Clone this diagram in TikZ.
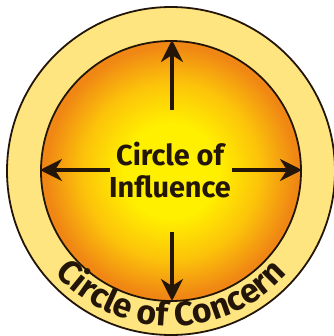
\documentclass[tikz,border=0pt]{standalone}
\usepackage{fontspec}
\setmainfont{Fira Sans}
\usetikzlibrary{arrows.meta,decorations.text}

\definecolor{vongngoai}{RGB}{255,229,128}
\definecolor{vangtam}{RGB}{255,240,0}
\definecolor{camgiua}{RGB}{252,195,10}
\definecolor{camvien}{RGB}{240,135,20}
\definecolor{mucden}{RGB}{35,22,8}

\pgfdeclareradialshading{anhhuong}{\pgfpoint{0bp}{0bp}}{%
	color(0bp)=(vangtam); color(9bp)=(vangtam); color(17bp)=(camgiua);
	color(24bp)=(camvien); color(50bp)=(camvien)}

\tikzset{
	muiten/.style={line width=3.5bp, mucden, -{Stealth[length=22bp,width=22bp,inset=7bp]}},
	vien/.style={draw=mucden, line width=1.8bp},
	chu/.style={text=mucden, font=\bfseries\fontsize{29}{34}\selectfont, align=center}
}

\begin{document}
\begin{tikzpicture}[x=1bp, y=1bp]
	
	% --- KHUNG HÌNH ---
	\useasboundingbox (-171,-165) rectangle (163,171);
	
	% Vẽ hình tròn ngoài (vòng quan tâm)
	\fill[white] (-171,-165) rectangle (163,171);
	\filldraw[vien, fill=vongngoai] (0,0) circle (164);
	
	% Vẽ hình tròn trong (vòng ảnh hưởng)
	\draw[vien, shading=anhhuong] (0,0) circle (130);
	
	% Chữ ở giữa
	\node[chu] (tam) at (-1,1) {Circle of\\[-1pt]Influence};
	
	% Các điểm đầu và cuối mũi tên
	\coordinate (tren0) at (1,61);
	\coordinate (tren1) at (1,131);
	\coordinate (trai0) at (-61,1);
	\coordinate (trai1) at (-131,1);
	\coordinate (phai0) at (61,1);
	\coordinate (phai1) at (131,1);
	\coordinate (duoi0) at (1,-61);
	\coordinate (duoi1) at (1,-130);
	
	% Vẽ bốn mũi tên
	\draw[muiten] (tren0) -- (tren1);
	\draw[muiten] (trai0) -- (trai1);
	\draw[muiten] (phai0) -- (phai1);
	\draw[muiten] (duoi0) -- (duoi1);
	
	% Chữ uốn theo vòng ngoài
	\path[decorate, decoration={text along path, text align=center,
		text={|\bfseries\fontsize{34}{38}\selectfont\color{mucden}|Circle of Concern}}]
		(196:155) arc[start angle=196, end angle=344, radius=155];
	
\end{tikzpicture}
\end{document}
